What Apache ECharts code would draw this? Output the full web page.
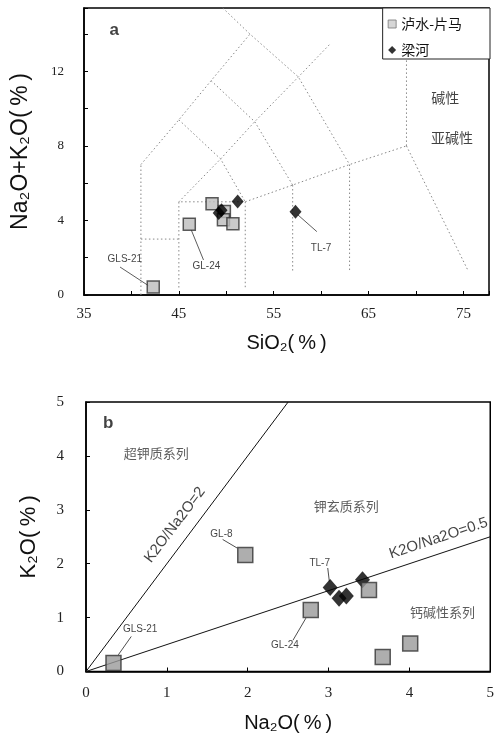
<!DOCTYPE html>
<html>
<head>
<meta charset="utf-8">
<script src="https://cdn.jsdelivr.net/npm/echarts@6/dist/echarts.min.js"></script>
<style>html,body{margin:0;padding:0;background:#fff}#c{width:497px;height:736px}</style>
</head>
<body>
<div id="c"></div>
<script>
// ---- Chart a (TAS) ----
const seriesNames = ['泸水-片马', '梁河'];
const aLushui = [[42.3,0.43],[46.1,3.8],[48.5,4.9],[49.8,4.48],[49.7,4.04],[50.7,3.82]];
const aLianghe = [[51.2,5.02],[49.2,4.4],[49.5,4.55],[57.3,4.47]];
const aTasLines = [
  [[41,0],[41,7]],
  [[41,3],[45,3]],
  [[45,0.4],[45,5],[52,5],[52,0.4]],
  [[41,7],[45,9.4],[48.4,11.5],[52.5,14]],
  [[48.4,16],[52.5,14],[57.6,11.7],[63,7]],
  [[45,5],[49.4,7.3],[53,9.3],[57.6,11.7],[61,13.5]],
  [[45,9.4],[49.4,7.3],[52,5]],
  [[48.4,11.5],[53,9.3],[57,5.9]],
  [[52,5],[57,5.9],[63,7],[69,8]],
  [[57,5.9],[57,1.2]],
  [[63,7],[63,1.3]],
  [[69,8],[69,13]],
  [[69,8],[75.5,1.3]]
];
const aSampleLabels = [{name:'GLS-21', value:[39.3,1.9]}, {name:'GL-24', value:[47.9,1.52]}, {name:'TL-7', value:[60.0,2.53]}];
const aLeaders = [[[38.8,1.5],[41.8,0.5]], [[47.6,1.88],[46.3,3.5]], [[59.55,3.4],[57.55,4.3]]];
const aRegions = [{name:'碱性', value:[73.1,10.6]}, {name:'亚碱性', value:[73.8,8.45]}];
const aPanel = [{name:'a', value:[38.2,14.2]}];
const aXMin = 35, aXMax = 77.7, aXTick = 5, aXLabelStep = 10;
const aYMin = 0, aYMax = 15.4, aYTick = 2, aYLabelStep = 4;

// ---- Chart b (K2O vs Na2O) ----
const bLushui = [[0.34,0.16],[1.97,2.16],[2.78,1.14],[3.50,1.51],[3.67,0.27],[4.01,0.52]];
const bLianghe = [[3.02,1.56],[3.13,1.36],[3.22,1.40],[3.42,1.70]];
const bRatios = [2, 0.5];
const bSampleLabels = [{name:'GL-8', value:[1.675,2.55]}, {name:'TL-7', value:[2.89,2.0]}, {name:'GL-24', value:[2.46,0.49]}, {name:'GLS-21', value:[0.67,0.78]}];
const bLeaders = [[[1.69,2.45],[1.87,2.29]], [[2.99,1.92],[3.01,1.67]], [[2.56,0.58],[2.72,0.99]], [[0.56,0.65],[0.40,0.31]]];
const bRegions = [{name:'超钾质系列', value:[0.87,4.05]}, {name:'钾玄质系列', value:[3.22,3.07]}, {name:'钙碱性系列', value:[4.41,1.11]}];
const bLineLabels = [{name:'K2O/Na2O=2', value:[1.1,2.72], rot:53}, {name:'K2O/Na2O=0.5', value:[4.36,2.47], rot:18.4}];
const bPanel = [{name:'b', value:[0.275,4.6]}];
const bMin = 0, bMax = 5, bTick = 1;

const serif = 'Liberation Serif';
const sans = 'Liberation Sans, DejaVu Sans';
const cjk = 'Noto Sans CJK SC';

function textSeries(xi, items, fontSize, family, extra) {
  return {
    type: 'scatter', xAxisIndex: xi, yAxisIndex: xi, silent: true, z: 6,
    symbolSize: 1, itemStyle: {color: 'transparent'},
    data: items.map(d => ({name: d.name, value: d.value,
      label: d.rot ? {rotate: d.rot} : undefined})),
    label: Object.assign({show: true, position: 'inside', formatter: p => p.name,
      fontSize: fontSize, fontFamily: family, color: '#111'}, extra || {})
  };
}
function lineSeries(xi, pts, style, z) {
  return {type: 'line', xAxisIndex: xi, yAxisIndex: xi, silent: true, symbol: 'none',
    z: z || 1, data: pts, lineStyle: style, animation: false};
}

const series = [];
aTasLines.forEach(l => series.push(lineSeries(0, l, {color: '#888', width: 1, type: [1.5, 2.5]})));
aLeaders.forEach(l => series.push(lineSeries(0, l, {color: '#333', width: 0.8})));
series.push({name: seriesNames[0], type: 'scatter', xAxisIndex: 0, yAxisIndex: 0, symbol: 'rect', symbolSize: 12, z: 3,
  itemStyle: {color: '#bdbdbd', borderColor: '#333', borderWidth: 1.5}, data: aLushui});
series.push({name: seriesNames[1], type: 'scatter', xAxisIndex: 0, yAxisIndex: 0, symbol: 'diamond', symbolSize: [12, 14], z: 4,
  itemStyle: {color: '#000'}, data: aLianghe});
series.push(textSeries(0, aSampleLabels, 10, sans));
series.push(textSeries(0, aRegions, 14, cjk));
series.push(textSeries(0, aPanel, 17, sans, {fontWeight: 'bold'}));

bRatios.forEach(r => {
  const end = r >= 1 ? [bMax / r, bMax] : [bMax, bMax * r];
  series.push(lineSeries(1, [[0, 0], end], {color: '#111', width: 1}));
});
bLeaders.forEach(l => series.push(lineSeries(1, l, {color: '#222', width: 0.8})));
series.push({name: seriesNames[1], type: 'scatter', xAxisIndex: 1, yAxisIndex: 1, symbol: 'diamond', symbolSize: [15, 17], z: 3,
  itemStyle: {color: '#000'}, data: bLianghe});
series.push({name: seriesNames[0], type: 'scatter', xAxisIndex: 1, yAxisIndex: 1, symbol: 'rect', symbolSize: 15, z: 4,
  itemStyle: {color: '#9a9a9a', borderColor: '#333', borderWidth: 1.5}, data: bLushui});
series.push(textSeries(1, bSampleLabels, 10, sans));
series.push(textSeries(1, bRegions, 13, cjk, {color: '#333'}));
series.push(textSeries(1, bLineLabels, 15, sans));
series.push(textSeries(1, bPanel, 17, sans, {fontWeight: 'bold'}));

const axisCommon = {
  axisLine: {onZero: false, lineStyle: {color: '#000', width: 1.5}},
  axisTick: {inside: true, length: 4, lineStyle: {color: '#000', width: 1}},
  splitLine: {show: false},
};

const option = {
  animation: false,
  backgroundColor: '#fff',
  legend: {
    data: [{name: seriesNames[0], icon: 'rect', itemStyle: {color: '#ccc', borderColor: '#777', borderWidth: 1}},
           {name: seriesNames[1], icon: 'diamond'}],
    orient: 'vertical', right: 7, top: 8, itemWidth: 8, itemHeight: 8, itemGap: 10,
    padding: [8, 28, 1, 5], backgroundColor: '#fff', borderColor: '#222', borderWidth: 1,
    textStyle: {fontSize: 14, fontFamily: cjk, color: '#111', lineHeight: 16},
    selectedMode: false, z: 10
  },
  grid: [
    {left: 84, right: 8, top: 8, height: 287, show: true, borderColor: '#000', borderWidth: 1.5},
    {left: 86, right: 6, top: 402, height: 269.5, show: true, borderColor: '#000', borderWidth: 1.5}
  ],
  xAxis: [
    Object.assign({}, axisCommon, {gridIndex: 0, type: 'value', min: aXMin, max: aXMax, interval: aXTick,
      name: 'SiO₂(\u2009%\u2009)', nameLocation: 'middle', nameGap: 38,
      nameTextStyle: {fontSize: 20, fontFamily: sans, color: '#111'},
      axisLabel: {margin: 12, fontSize: 15, fontFamily: serif, color: '#222',
        formatter: v => ((v - aXMin) % aXLabelStep === 0 ? String(v) : '')}}),
    Object.assign({}, axisCommon, {gridIndex: 1, type: 'value', min: bMin, max: bMax, interval: bTick,
      name: 'Na₂O(\u2009%\u2009)', nameLocation: 'middle', nameGap: 42,
      nameTextStyle: {fontSize: 20, fontFamily: sans, color: '#111'},
      axisLabel: {margin: 14, fontSize: 15, fontFamily: serif, color: '#222'}})
  ],
  yAxis: [
    Object.assign({}, axisCommon, {gridIndex: 0, type: 'value', min: aYMin, max: aYMax, interval: aYTick,
      name: 'Na₂O+K₂O(\u2009%\u2009)', nameLocation: 'middle', nameGap: 52,
      nameTextStyle: {fontSize: 23, fontFamily: sans, color: '#111'},
      axisLabel: {margin: 20, fontSize: 13, fontFamily: serif, color: '#222',
        formatter: v => (v % aYLabelStep === 0 ? String(v) : '')}}),
    Object.assign({}, axisCommon, {gridIndex: 1, type: 'value', min: bMin, max: bMax, interval: bTick,
      name: 'K₂O(\u2009%\u2009)', nameLocation: 'middle', nameGap: 46,
      nameTextStyle: {fontSize: 22, fontFamily: sans, color: '#111'},
      axisLabel: {margin: 22, fontSize: 15, fontFamily: serif, color: '#222'}})
  ],
  series: series
};
const chart = echarts.init(document.getElementById('c'), null, {renderer: 'canvas'});
chart.setOption(option);
</script>
</body>
</html>
